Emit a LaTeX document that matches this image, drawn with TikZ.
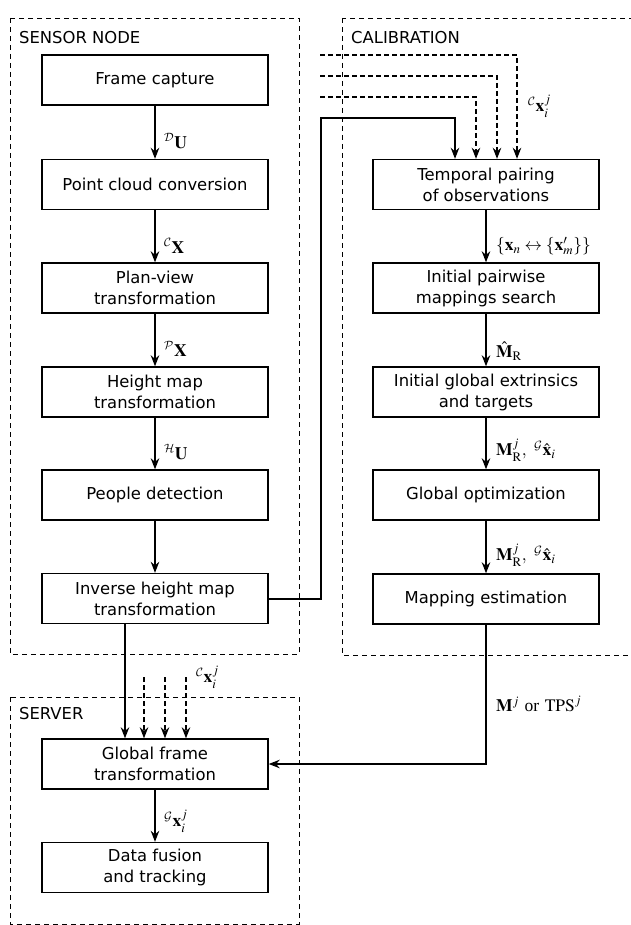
\documentclass[tikz,border=0pt]{standalone}
\usepackage{mathptmx}
\usepackage[no-math]{fontspec}
\setmainfont{DejaVu Sans}
\DeclareMathAlphabet{\mathcmcal}{OMS}{cmsy}{m}{n}
\usetikzlibrary{arrows.meta}
\begin{document}
\begin{tikzpicture}[x=1pt,y=-1pt,
  every node/.style={font=\fontsize{16.4}{21}\selectfont},
  blk/.style={draw, line width=1.4pt, minimum width=226pt, minimum height=50pt, inner sep=0pt, align=center},
  grp/.style={draw, line width=0.7pt, dash pattern=on 5pt off 4pt},
  ttl/.style={anchor=west, inner sep=0pt},
  arr/.style={line width=1.4pt, -{Stealth[length=11pt,width=8.5pt]}},
  darr/.style={line width=1.4pt, dash pattern=on 5pt off 3pt, -{Stealth[length=11pt,width=8.5pt]}},
  lbl/.style={anchor=west, inner sep=0pt, font=\fontsize{17.5}{20}\selectfont}]
\useasboundingbox (0,0) rectangle (630,925);
% group boxes
\draw[grp] (10,18) rectangle (299,654);
\draw[grp] (342,18) rectangle (634,655);
\draw[grp] (10,697) rectangle (299,924);
\node[ttl] (tsensor) at (19,38) {SENSOR NODE};
\node[ttl] (tcalib) at (351,38) {CALIBRATION};
\node[ttl] (tserver) at (19,714) {SERVER};
% sensor node blocks
\node[blk] (frame) at (155,80) {Frame capture};
\node[blk] (cloud) at (155,184.5) {Point cloud conversion};
\node[blk] (plan) at (155,288) {Plan-view\\transformation};
\node[blk] (hmap) at (155,392) {Height map\\transformation};
\node[blk] (people) at (155,495) {People detection};
\node[blk] (inv) at (155,598.5) {Inverse height map\\transformation};
% calibration blocks
\node[blk] (temp) at (486,184.5) {Temporal pairing\\of observations};
\node[blk] (pair) at (486,288) {Initial pairwise\\mappings search};
\node[blk] (init) at (486,392) {Initial global extrinsics\\and targets};
\node[blk] (opt) at (486,495) {Global optimization};
\node[blk] (map) at (486,599) {Mapping estimation};
% server blocks
\node[blk] (glob) at (155,764) {Global frame\\transformation};
\node[blk] (fus) at (155,867.5) {Data fusion\\and tracking};
% sensor arrows
\draw[arr] (frame) -- (cloud);
\draw[arr] (cloud) -- (plan);
\draw[arr] (plan) -- (hmap);
\draw[arr] (hmap) -- (people);
\draw[arr] (people) -- (inv);
\node[lbl] (l1) at (164,141) {${}^{\mathcmcal{D}}\mathbf{U}$};
\node[lbl] (l2) at (164,246) {${}^{\mathcmcal{C}}\mathbf{X}$};
\node[lbl] (l3) at (164,349) {${}^{\mathcmcal{P}}\mathbf{X}$};
\node[lbl] (l4) at (164,452) {${}^{\mathcmcal{H}}\mathbf{U}$};
% calibration arrows
\draw[arr] (temp) -- (pair);
\draw[arr] (pair) -- (init);
\draw[arr] (init) -- (opt);
\draw[arr] (opt) -- (map);
\node[lbl] (r1) at (496,246) {$\{\mathbf{x}_n \leftrightarrow \{\mathbf{x}'_m\}\}$};
\node[lbl] (r2) at (496,351) {$\hat{\mathbf{M}}_{\mathrm{R}}$};
\node[lbl] (r3) at (496,450) {$\mathbf{M}^j_{\mathrm{R}},\ {}^{\mathcmcal{G}}\hat{\mathbf{x}}_i$};
\node[lbl] (r4) at (496,555) {$\mathbf{M}^j_{\mathrm{R}},\ {}^{\mathcmcal{G}}\hat{\mathbf{x}}_i$};
% inverse to temporal pairing
\coordinate (c1) at (321,599);
\coordinate (c2) at (321,118);
\draw[arr] (inv.east |- c1) -- (c1) -- (c2) -- (455,118) -- (temp.north -| 455,0);
% dashed inputs to temporal pairing
\coordinate (d1) at (320,55);
\coordinate (d2) at (320,76);
\coordinate (d3) at (320,97);
\draw[darr] (d1) -- (517,55) -- (temp.north -| 517,0);
\draw[darr] (d2) -- (497,76) -- (temp.north -| 497,0);
\draw[darr] (d3) -- (476,97) -- (temp.north -| 476,0);
\node[lbl] (rc) at (528,106) {${}^{\mathcmcal{C}}\mathbf{x}^j_i$};
% inverse to global frame
\draw[arr] (inv.south -| 125,0) -- (glob.north -| 125,0);
\coordinate (e1) at (144,677);
\coordinate (e2) at (165,677);
\coordinate (e3) at (186,677);
\draw[darr] (e1) -- (glob.north -| e1);
\draw[darr] (e2) -- (glob.north -| e2);
\draw[darr] (e3) -- (glob.north -| e3);
\node[lbl] (bc) at (196,677) {${}^{\mathcmcal{C}}\mathbf{x}^j_i$};
% mapping to global frame
\draw[arr] (map.south) |- (glob.east);
\node[lbl] (mt) at (496,704) {$\mathbf{M}^j$ {\fontspec{Liberation Serif}or} $\mathrm{TPS}^j$};
% global to fusion
\draw[arr] (glob) -- (fus);
\node[lbl] (g1) at (164,821) {${}^{\mathcmcal{G}}\mathbf{x}^j_i$};
\end{tikzpicture}
\end{document}
